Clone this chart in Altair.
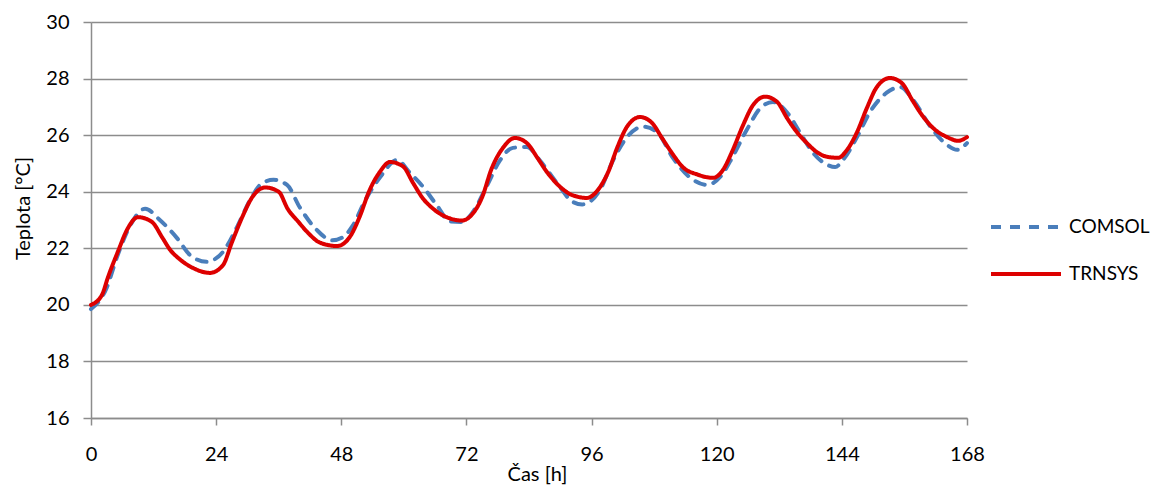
import altair as alt
import pandas as pd

# TRNSYS series (time [h], temperature [°C])
trnsys_t = [0, 2.1, 3.3, 5.2, 6.9, 9.0, 11.7, 13.6, 15.2, 17.1, 19.6, 22.8, 25.3, 27, 29, 30.9,
            33.4, 36, 37.7, 39.7, 41.6, 43.9, 47.2, 49.7, 51.6, 53.3, 55.4, 57.3, 59.8, 61.8,
            63.5, 65.6, 68.2, 71.1, 73.1, 75, 76.8, 79, 81.3, 83.7, 85.6, 87.5, 89.8, 92.3,
            95.1, 97.2, 99.2, 100.9, 102.8, 105.3, 107.6, 109.5, 111.4, 113.5, 116.4, 119.3,
            121.2, 123.1, 125, 127, 129.3, 131.6, 133.5, 135.4, 137.3, 139.2, 141.3, 143.3,
            145, 146.9, 148.8, 150.7, 153.2, 155.5, 157.5, 159.4, 161.5, 164.2, 166.3, 168]
trnsys_v = [20.0, 20.35, 21.0, 21.9, 22.65, 23.1, 22.93, 22.4, 21.94, 21.6, 21.3, 21.13, 21.4,
            22.2, 23.1, 23.8, 24.15, 24.0, 23.4, 22.95, 22.55, 22.2, 22.08, 22.42, 23.15, 24.0,
            24.7, 25.05, 24.9, 24.3, 23.8, 23.4, 23.1, 22.98, 23.2, 23.8, 24.8, 25.55, 25.9,
            25.7, 25.2, 24.68, 24.2, 23.88, 23.78, 24.06, 24.7, 25.55, 26.3, 26.64, 26.43,
            25.9, 25.37, 24.87, 24.6, 24.49, 24.77, 25.48, 26.33, 27.07, 27.36, 27.17, 26.6,
            26.1, 25.72, 25.4, 25.23, 25.2, 25.48, 26.1, 26.96, 27.7, 28.02, 27.84, 27.24,
            26.7, 26.25, 25.93, 25.8, 25.93]

# COMSOL series
comsol_t = [0, 3, 5, 7.5, 10.4, 13.2, 16.5, 19, 22.2, 23.4, 25.3, 28, 30.5, 32.8, 35, 37.6,
            40, 43.3, 46.3, 48.2, 50.2, 52.6, 55.4, 58.7, 61.2, 63.7, 66.4, 68.8, 71.1, 73.3,
            75.9, 78.4, 80.9, 83.6, 86.1, 89.4, 92.4, 94.2, 97.6, 100.1, 102.8, 105.9, 108.6,
            111.6, 114.9, 118.1, 120.8, 123.1, 125.8, 128.6, 130.8, 133.5, 136, 138.5, 141.2,
            142.7, 144.2, 146.9, 149.4, 152.6, 155.2, 157.7, 161, 164.2, 166.1, 168]
comsol_v = [19.85, 20.6, 21.7, 22.8, 23.4, 23.0, 22.36, 21.76, 21.52, 21.58, 21.87, 22.75,
            23.7, 24.3, 24.42, 24.24, 23.46, 22.65, 22.28, 22.38, 22.8, 23.7, 24.5, 25.12,
            24.66, 24.17, 23.5, 22.95, 22.93, 23.3, 24.2, 25.1, 25.55, 25.58, 25.1, 24.3,
            23.64, 23.55, 24.06, 25.1, 25.93, 26.3, 26.1, 25.2, 24.5, 24.24, 24.55, 25.25,
            26.2, 27.0, 27.17, 26.8, 26.08, 25.37, 24.95, 24.87, 25.12, 25.93, 26.82, 27.5,
            27.7, 27.24, 26.3, 25.65, 25.48, 25.72]

series = ["COMSOL", "TRNSYS"]
colors = ["#4A7EBB", "#DD0000"]
x_ticks = [0, 24, 48, 72, 96, 120, 144, 168]
y_ticks = [16, 18, 20, 22, 24, 26, 28, 30]

df = pd.concat([
    pd.DataFrame({"t": comsol_t, "v": comsol_v, "s": "COMSOL", "o": range(len(comsol_t))}),
    pd.DataFrame({"t": trnsys_t, "v": trnsys_v, "s": "TRNSYS", "o": range(len(trnsys_t))}),
])

FONT = "Lato"
GRID = "#8C8C8C"

chart = alt.Chart(df).mark_line(strokeWidth=4, interpolate="monotone", strokeCap="round").encode(
    x=alt.X("t:Q", title="Čas [h]",
            scale=alt.Scale(domain=[0, 168], nice=False, zero=False),
            axis=alt.Axis(values=x_ticks, grid=False, tickSize=7, labelPadding=19,
                          labelFlush=False, titlePadding=0, titleX=446)),
    y=alt.Y("v:Q", title="Teplota [°C]",
            scale=alt.Scale(domain=[16, 30], nice=False, zero=False),
            axis=alt.Axis(values=y_ticks, grid=True, tickSize=8, labelPadding=14,
                          titlePadding=12, titleY=186)),
    color=alt.Color("s:N", title=None,
                    scale=alt.Scale(domain=series, range=colors),
                    legend=alt.Legend(orient="none", legendX=898, legendY=168,
                                      symbolType="stroke", symbolSize=4900,
                                      symbolStrokeWidth=4, rowPadding=-25,
                                      labelFontSize=19, labelFont=FONT,
                                      labelColor="#000000", labelOffset=6)),
    strokeDash=alt.StrokeDash("s:N", title=None,
                              scale=alt.Scale(domain=series, range=[[10, 9], [1, 0]]),
                              legend=None),
    order="o:Q",
).properties(
    width=876, height=396,
    autosize=alt.AutoSizeParams(type="none"),
    padding={"left": 83, "top": 14, "right": 188, "bottom": 67},
).configure_axis(
    labelFont=FONT, labelFontSize=20, labelColor="#000000",
    titleFont=FONT, titleFontSize=20, titleColor="#000000", titleFontWeight="normal",
    domainColor=GRID, domainWidth=1.5, tickColor=GRID, tickWidth=1.5,
    gridColor=GRID, gridWidth=1.5, gridOpacity=1,
).configure_view(stroke=None)

chart.save("out.html", embed_options={"renderer": "svg", "actions": False})
